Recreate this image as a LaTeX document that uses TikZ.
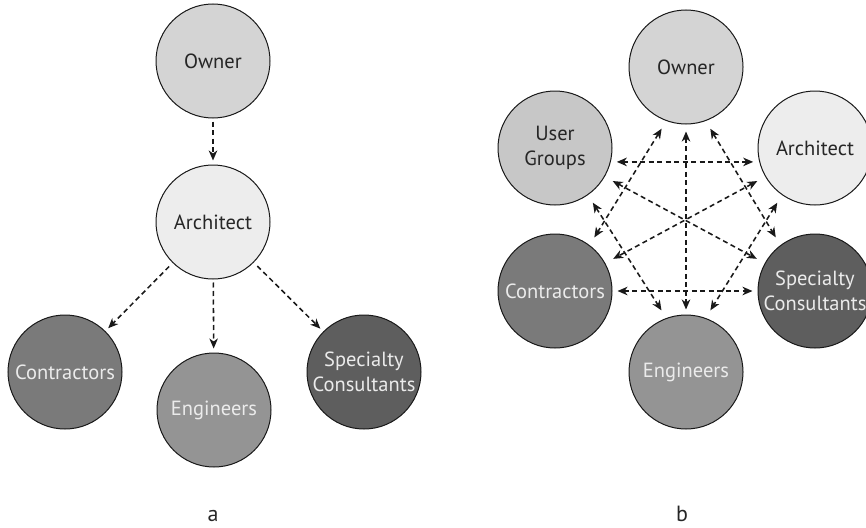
\documentclass[tikz,border=0pt]{standalone}
\usepackage{fontspec}
\setmainfont{PT Sans}
\usetikzlibrary{arrows.meta}
\definecolor{cOwner}{gray}{0.83}
\definecolor{cUG}{gray}{0.78}
\definecolor{cArch}{gray}{0.93}
\definecolor{cContr}{gray}{0.48}
\definecolor{cEng}{gray}{0.58}
\definecolor{cSpec}{gray}{0.37}
\definecolor{cLine}{gray}{0.1}
\begin{document}
\begin{tikzpicture}[x=1pt,y=-1pt,
  blob/.style={circle, draw=cLine, line width=1pt, minimum size=114pt, inner sep=0pt,
    align=center, font=\fontsize{20.5}{24.5}\selectfont},
  lite/.style={blob, text=black!85},
  darkblob/.style={blob, text=white!92!black},
  conn/.style={draw=cLine, line width=1.55pt, dash pattern=on 5pt off 3.5pt},
  onehead/.style={conn, -{Stealth[length=10pt,width=8.5pt,inset=3pt]}},
  twohead/.style={conn, {Stealth[length=10pt,width=8.5pt,inset=3pt]}-{Stealth[length=10pt,width=8.5pt,inset=3pt]}},
  caption/.style={anchor=base, font=\fontsize{22}{26}\selectfont, text=black!85}
]
\useasboundingbox (0,0) rectangle (866,527);
\fill[white] (0,0) rectangle (866,527);

% ---- diagram a ----
\node[lite, fill=cOwner] (lo) at (213,61) {Owner};
\node[lite, fill=cArch] (la) at (213,222) {Architect};
\node[darkblob, fill=cContr] (lc) at (65,372) {Contractors};
\node[darkblob, fill=cEng] (le) at (214,410) {Engineers};
\node[darkblob, fill=cSpec] (ls) at (364,372) {Specialty\\Consultants};

\draw[onehead, shorten <=3pt, shorten >=4pt] (lo) -- (la);
\draw[onehead, shorten <=5pt, shorten >=4pt] (la) -- (lc);
\draw[onehead, shorten <=3pt, shorten >=4pt] (la) -- (le);
\draw[onehead, shorten <=5pt, shorten >=4pt] (la) -- (ls);

% ---- diagram b ----
\node[lite, fill=cOwner] (ro) at (686,67) {Owner};
\node[lite, fill=cUG] (ru) at (555,148) {User\\Groups};
\node[lite, fill=cArch] (ra) at (815,148) {Architect};
\node[darkblob, fill=cContr] (rc) at (555,291) {Contractors};
\node[darkblob, fill=cSpec] (rs) at (815,291) {Specialty\\Consultants};
\node[darkblob, fill=cEng] (re) at (686,372) {Engineers};

\draw[twohead, shorten <=6pt, shorten >=6pt] (ru.-14) -- (ra.194);
\draw[twohead, shorten <=5pt, shorten >=5pt] (rc.0) -- (rs.180);
\draw[twohead, shorten <=7pt, shorten >=5pt] (ro.south) -- (re.north);
\draw[twohead, shorten <=9pt, shorten >=9pt] (ro.250) -- (rc.53);
\draw[twohead, shorten <=9pt, shorten >=9pt] (ro.290) -- (rs.127);
\draw[twohead, shorten <=9pt, shorten >=9pt] (ru.-30) -- (rs.151);
\draw[twohead, shorten <=9pt, shorten >=9pt] (ra.210) -- (rc.29);
\draw[twohead, shorten <=9pt, shorten >=9pt] (ru.-55) -- (re.110);
\draw[twohead, shorten <=9pt, shorten >=9pt] (ra.235) -- (re.70);

% ---- captions ----
\node[caption] (capa) at (213,521) {a};
\node[caption] (capb) at (682,521) {b};
\end{tikzpicture}
\end{document}
